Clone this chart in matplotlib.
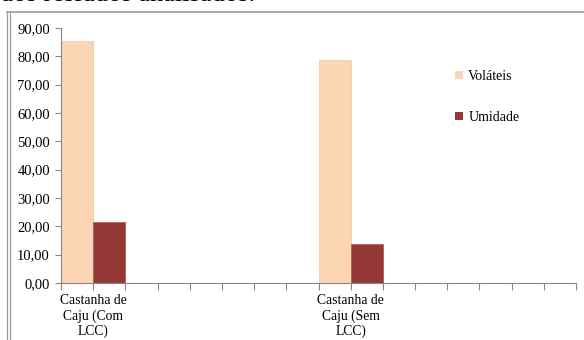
import matplotlib.pyplot as plt
from matplotlib.patches import Patch
from matplotlib.lines import Line2D
import numpy as np

# --- DATA ---
categories = ['Castanha de\nCaju (Com\nLCC)', 'Castanha de\nCaju (Sem\nLCC)']
volateis = [85.3, 78.7]
umidade = [21.7, 13.8]
series_names = ['Voláteis', 'Umidade']
y_ticks = np.arange(0, 91, 10)

# --- STYLE ---
plt.rcParams['font.family'] = ['Liberation Serif', 'DejaVu Serif']
c_vol = '#FCD5B5'
c_umi = '#953735'
axis_gray = '#868686'

fig = plt.figure(figsize=(5.84, 3.40), dpi=100)
ax = fig.add_axes([61 / 584, 1 - 283 / 340, (576 - 61) / 584, (283 - 28) / 340])

# category slots: each category uses two tick intervals, 8 slots on the axis
cat_pos = np.array([1, 9])
bw = 1.0
ax.bar(cat_pos - bw / 2, volateis, width=bw, color=c_vol, edgecolor='#f5c9a6', linewidth=0.6)
ax.bar(cat_pos + bw / 2, umidade, width=bw, color=c_umi, edgecolor='#b06060', linewidth=0.6)

ax.set_xlim(0, 16)
ax.set_ylim(0, 90)
ax.xaxis.remove_overlapping_locs = False
ax.set_xticks(np.arange(0, 17, 1))
ax.set_xticklabels([])
ax.set_xticks(cat_pos, minor=True)
ax.set_xticklabels(categories, minor=True, fontsize=9.8, linespacing=1.2)
ax.tick_params(axis='x', which='minor', length=0, pad=8)
ax.tick_params(axis='x', which='major', length=5, direction='out', color=axis_gray, width=0.8)

ax.set_yticks(y_ticks)
ax.set_yticklabels([f'{v:.2f}'.replace('.', ',') for v in y_ticks], fontsize=10.5)
ax.tick_params(axis='y', length=4, direction='out', color=axis_gray, width=0.8, pad=4)

for s in ['top', 'right']:
    ax.spines[s].set_visible(False)
for s in ['left', 'bottom']:
    ax.spines[s].set_color(axis_gray)
    ax.spines[s].set_linewidth(0.8)

# legend
handles = [Patch(facecolor=c_vol, edgecolor='none'), Patch(facecolor=c_umi, edgecolor='none')]
ax.legend(handles, series_names, loc='upper left', bbox_to_anchor=(455 / 584, 1 - 70 / 340),
          bbox_transform=fig.transFigure, frameon=False, fontsize=10,
          handlelength=0.55, handleheight=0.55, handletextpad=0.4, labelspacing=2.0,
          borderpad=0, borderaxespad=0)

# outer frame of the pasted chart (double line on the left, top line)
fw, fh = 584, 340
for x in (7, 10):
    fig.add_artist(Line2D([x / fw, x / fw], [0, 1 - 12 / fh], color='#9a9a9a', lw=0.9))
fig.add_artist(Line2D([7 / fw, 1], [1 - 12 / fh, 1 - 12 / fh], color='#9a9a9a', lw=1.2))

# bottom of the caption line above the chart, cut off by the crop
fig.text(0, 1 - 1.2 / fh, 'dos resíduos analisados.', fontsize=19, va='baseline', ha='left')

fig.savefig('out.png', dpi=100)
